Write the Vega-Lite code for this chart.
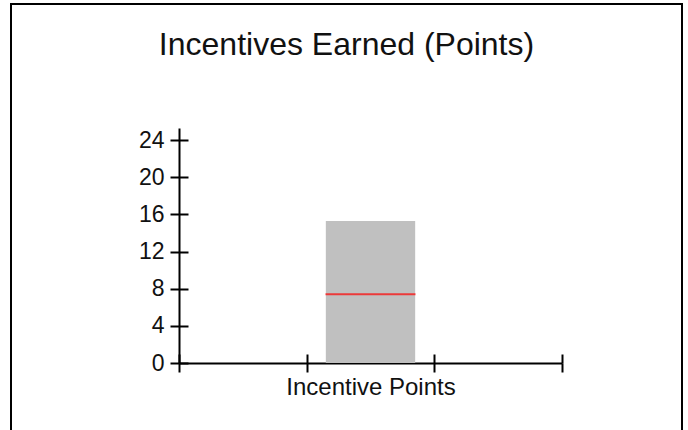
{
  "$schema": "https://vega.github.io/schema/vega-lite/v6.json",
  "autosize": "none",
  "width": 671,
  "height": 440,
  "padding": {"left": 11, "top": 4, "right": 6, "bottom": 0},
  "background": "white",
  "config": {
    "view": {"stroke": "#000", "strokeWidth": 2},
    "font": "Liberation Sans",
    "axis": {"labelFont": "Liberation Sans", "grid": false}
  },
  "title": {
    "text": "Incentives Earned (Points)",
    "fontSize": 32,
    "fontWeight": "normal",
    "font": "Liberation Sans",
    "color": "#111",
    "anchor": "middle",
    "frame": "group",
    "baseline": "alphabetic",
    "offset": -83
  },
  "data": {"values": [{"category": "Incentive Points", "earned": 15.3, "average": 7.4}]},
  "resolve": {"axis": {"x": "independent", "y": "independent"}},
  "layer": [
    {
      "mark": {"type": "bar", "color": "#c0c0c0", "width": {"band": 0.7}},
      "encoding": {
        "x": {
          "field": "category",
          "type": "nominal",
          "scale": {"domain": ["left", "Incentive Points", "right"], "range": [168, 551], "padding": 0},
          "axis": {
            "orient": "bottom",
            "offset": -81,
            "title": null,
            "tickBand": "extent",
            "tickSize": 9,
            "tickWidth": 2,
            "tickColor": "#000",
            "domainColor": "#000",
            "domainWidth": 2,
            "labelAngle": 0,
            "labelFontSize": 24,
            "labelColor": "#111",
            "labelPadding": 3,
            "labelExpr": "datum.value == 'Incentive Points' ? datum.value : ''",
            "grid": false
          }
        },
        "y": {
          "field": "earned",
          "type": "quantitative",
          "scale": {"domain": [0, 25.3], "range": [359, 124], "nice": false, "zero": true},
          "axis": {
            "orient": "left",
            "offset": -168,
            "title": null,
            "values": [0, 4, 8, 12, 16, 20, 24],
            "tickSize": 9,
            "tickWidth": 2,
            "tickColor": "#000",
            "domainColor": "#000",
            "domainWidth": 2,
            "labelFontSize": 23,
            "labelColor": "#111",
            "labelPadding": 6,
            "grid": false
          }
        }
      }
    },
    {
      "mark": {"type": "tick", "color": "#ff0000", "thickness": 2, "size": 90},
      "encoding": {
        "x": {
          "field": "category",
          "type": "nominal",
          "scale": {"domain": ["left", "Incentive Points", "right"], "range": [168, 551], "padding": 0},
          "axis": {
            "orient": "bottom",
            "offset": -90,
            "title": null,
            "tickBand": "extent",
            "tickSize": 9,
            "tickWidth": 2,
            "tickColor": "#000",
            "domain": false,
            "labels": false,
            "grid": false
          }
        },
        "y": {
          "field": "average",
          "type": "quantitative",
          "scale": {"domain": [0, 25.3], "range": [359, 124], "nice": false, "zero": true},
          "axis": {
            "orient": "left",
            "offset": -177,
            "title": null,
            "values": [0, 4, 8, 12, 16, 20, 24],
            "tickSize": 9,
            "tickWidth": 2,
            "tickColor": "#000",
            "domain": false,
            "labels": false,
            "grid": false
          }
        }
      }
    }
  ]
}
